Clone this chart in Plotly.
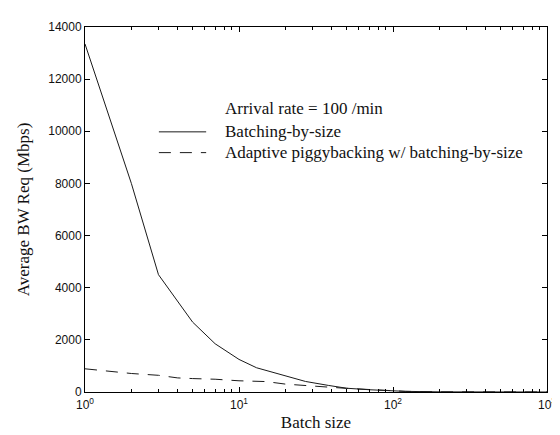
import plotly.graph_objects as go

# Data
batch_solid = [1, 2, 3, 4, 5, 7, 10, 13, 19, 27, 38, 50, 70, 120, 200, 500, 1000]
bw_solid = [13350, 8000, 4500, 3450, 2680, 1850, 1250, 930, 650, 405, 253, 145, 87, 25, 5, 0, 0]

batch_dashed = [1, 2, 3, 4, 5, 7, 10, 15, 20, 30, 40, 50, 70, 120, 200, 500, 1000]
bw_dashed = [890, 710, 640, 540, 515, 490, 430, 400, 303, 215, 178, 140, 85, 25, 5, 0, 0]

series_names = ["Batching-by-size", "Adaptive piggybacking w/ batching-by-size"]
legend_header = "Arrival rate = 100 /min"

x_tickvals = [1, 10, 100, 1000]
x_ticktext = ["10<sup>0</sup>", "10<sup>1</sup>", "10<sup>2</sup>", "10<sup>3</sup>"]
x_minorvals = [m * d for d in (1, 10, 100) for m in range(2, 10)]
y_tickvals = [0, 2000, 4000, 6000, 8000, 10000, 12000, 14000]

serif = "Liberation Serif, Times New Roman, serif"
sans = "Liberation Sans, Arial, sans-serif"

# plot area in pixels (for placing the in-plot legend)
L, R, T, B = 77, 546, 15, 384
def px(x): return (x - L) / (R - L)
def py(y): return 1 - (y - T) / (B - T)

line_color = "#1a1a1a"
dash_style = "12px,9px"

fig = go.Figure()
fig.add_trace(go.Scatter(x=batch_solid, y=bw_solid, mode="lines", name=series_names[0],
                         line=dict(color=line_color, width=1), showlegend=False))
fig.add_trace(go.Scatter(x=batch_dashed, y=bw_dashed, mode="lines", name=series_names[1],
                         line=dict(color=line_color, width=1, dash=dash_style), showlegend=False))

# in-plot legend: header + sample lines + labels
legend_rows = [(legend_header, 97, None), (series_names[0], 121, "solid"), (series_names[1], 142, dash_style)]
for text, ypix, dash in legend_rows:
    fig.add_annotation(text=text, xref="paper", yref="paper", x=px(217), y=py(ypix),
                       xanchor="left", yanchor="middle", showarrow=False,
                       font=dict(family=serif, size=17, color="#111"))
    if dash is not None:
        fig.add_shape(type="line", xref="paper", yref="paper",
                      x0=px(152), x1=px(200), y0=py(ypix), y1=py(ypix),
                      line=dict(color=line_color, width=1, dash=dash))

fig.update_layout(
    width=560, height=435,
    margin=dict(l=L, r=560 - R, t=T, b=435 - B),
    paper_bgcolor="white", plot_bgcolor="white",
    showlegend=False,
)
fig.update_xaxes(type="log", range=[0, 3], tickvals=x_tickvals, ticktext=x_ticktext,
                 ticks="inside", ticklen=5, tickcolor="black",
                 showline=True, linecolor="black", linewidth=1, mirror="ticks",
                 showgrid=False, zeroline=False, ticklabelstandoff=2,
                 minor=dict(tickvals=x_minorvals, ticks="inside", ticklen=3,
                            tickcolor="black", showgrid=False),
                 tickfont=dict(family=sans, size=12, color="#111"),
                 title=dict(text="Batch size", font=dict(family=serif, size=17, color="#111"), standoff=4))
fig.update_yaxes(range=[0, 14000], tickvals=y_tickvals, tickformat="d",
                 ticks="inside", ticklen=5, tickcolor="black",
                 showline=True, linecolor="black", linewidth=1, mirror="ticks",
                 showgrid=False, zeroline=False,
                 tickfont=dict(family=sans, size=12, color="#111"),
                 title=dict(text="Average BW Req (Mbps)", font=dict(family=serif, size=17, color="#111"), standoff=14))

fig.write_html("out.html")
